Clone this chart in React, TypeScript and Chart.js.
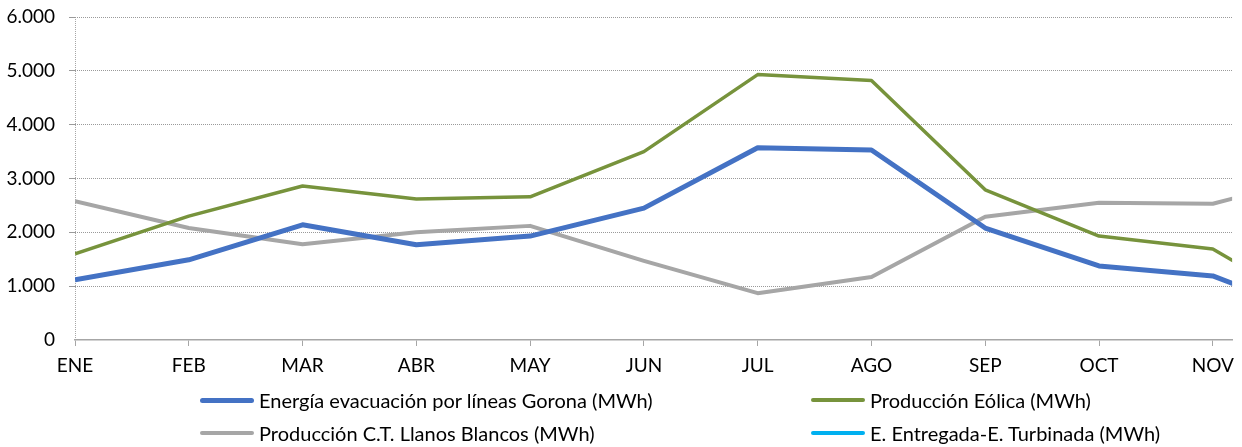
import React, { useEffect, useRef } from "react";
import { Chart, registerables } from "chart.js";
Chart.register(...registerables);

const months = ["ENE", "FEB", "MAR", "ABR", "MAY", "JUN", "JUL", "AGO", "SEP", "OCT", "NOV", "DIC"];
const gorona = [1120, 1490, 2140, 1770, 1930, 2450, 3570, 3530, 2080, 1375, 1190, 390];
const eolica = [1600, 2300, 2860, 2620, 2660, 3500, 4930, 4820, 2790, 1930, 1690, 465];
const llanos = [2580, 2080, 1780, 2000, 2120, 1470, 870, 1170, 2290, 2550, 2530, 3090];
const entregada: (number | null)[] = [null, null, null, null, null, null, null, null, null, null, null, null];

const seriesNames = [
  "Energía evacuación por líneas Gorona (MWh)",
  "Producción Eólica (MWh)",
  "Producción C.T. Llanos Blancos (MWh)",
  "E. Entregada-E. Turbinada (MWh)",
];
const seriesColors = ["#4472C4", "#77933C", "#A6A6A6", "#00B0F0"];
const seriesWidths = [5, 3.5, 4, 3.5];

const FONT = "Lato, 'Noto Sans', sans-serif";

function fmt(v: number) {
  return String(Math.round(v)).replace(/\B(?=(\d{3})+(?!\d))/g, ".");
}

export default function App() {
  const ref = useRef<HTMLCanvasElement | null>(null);
  useEffect(() => {
    const ctx = ref.current!;
    const allSeries = [gorona, eolica, llanos, entregada];
    const chart = new Chart(ctx, {
      type: "line",
      data: {
        datasets: allSeries.map((arr, k) => ({
          label: seriesNames[k],
          data: arr.map((v, i) => ({ x: i, y: v })),
          borderColor: seriesColors[k],
          backgroundColor: seriesColors[k],
          borderWidth: seriesWidths[k],
          pointRadius: 0,
          tension: 0,
          borderJoinStyle: "round" as const,
          spanGaps: false,
        })),
      },
      options: {
        animation: false,
        responsive: false,
        maintainAspectRatio: false,
        layout: { padding: { top: 17, right: 7, left: 0, bottom: 0 } },
        plugins: { legend: { display: false }, tooltip: { enabled: false } },
        scales: {
          x: {
            type: "linear",
            min: 0,
            max: 10.17,
            afterFit: (s: any) => {
              s.height = 107;
            },
            afterBuildTicks: (s: any) => {
              s.ticks = months.map((_, i) => ({ value: i })).filter((t) => t.value <= 10.17);
            },
            ticks: {
              autoSkip: false,
              maxRotation: 0,
              padding: 8,
              color: "#000",
              font: { family: FONT, size: 19 },
              callback: (v: any) => months[Math.round(Number(v))],
            },
            grid: {
              color: (c: any) => (c.index === 0 ? "#A6A6A6" : "rgba(0,0,0,0)"),
              tickColor: "#A6A6A6",
              tickLength: 6,
              lineWidth: 1,
            },
            border: { display: true, color: "#A6A6A6", width: 1.5, dash: (c: any) => (c.index === 0 ? [1, 1] : []) },
          },
          y: {
            min: 0,
            max: 6000,
            afterFit: (s: any) => {
              s.width = 75;
              s.paddingTop = 5;
              s.paddingBottom = 5;
            },
            ticks: {
              stepSize: 1000,
              padding: 14,
              color: "#000",
              font: { family: FONT, size: 19 },
              callback: (v: any) => fmt(Number(v)),
            },
            grid: {
              color: (c: any) => (c.index === 0 ? "rgba(0,0,0,0)" : "#9a9a9a"),
              tickLength: 6,
              lineWidth: 1,
            },
            border: { display: false, dash: [1, 1] },
          },
        },
      },
    } as any);
    return () => chart.destroy();
  }, []);

  const legendItem = (k: number, left: number, top: number) => (
    <div
      key={k}
      style={{ position: "absolute", left, top, display: "flex", alignItems: "center", whiteSpace: "nowrap" }}
    >
      <span
        style={{
          display: "inline-block",
          width: 54,
          height: seriesWidths[k],
          background: seriesColors[k],
          borderRadius: 3,
          marginRight: 5,
        }}
      />
      <span style={{ fontFamily: FONT, fontSize: 20, color: "#000", lineHeight: "22px" }}>{seriesNames[k]}</span>
    </div>
  );

  return (
    <div style={{ position: "fixed", left: 0, top: 0, width: 1242, height: 447, background: "#fff", overflow: "hidden" }}>
      <canvas ref={ref} width={1242} height={447} style={{ position: "absolute", left: 0, top: 0 }} />
      {legendItem(0, 200, 389)}
      {legendItem(1, 811, 389)}
      {legendItem(2, 200, 422)}
      {legendItem(3, 811, 422)}
    </div>
  );
}
